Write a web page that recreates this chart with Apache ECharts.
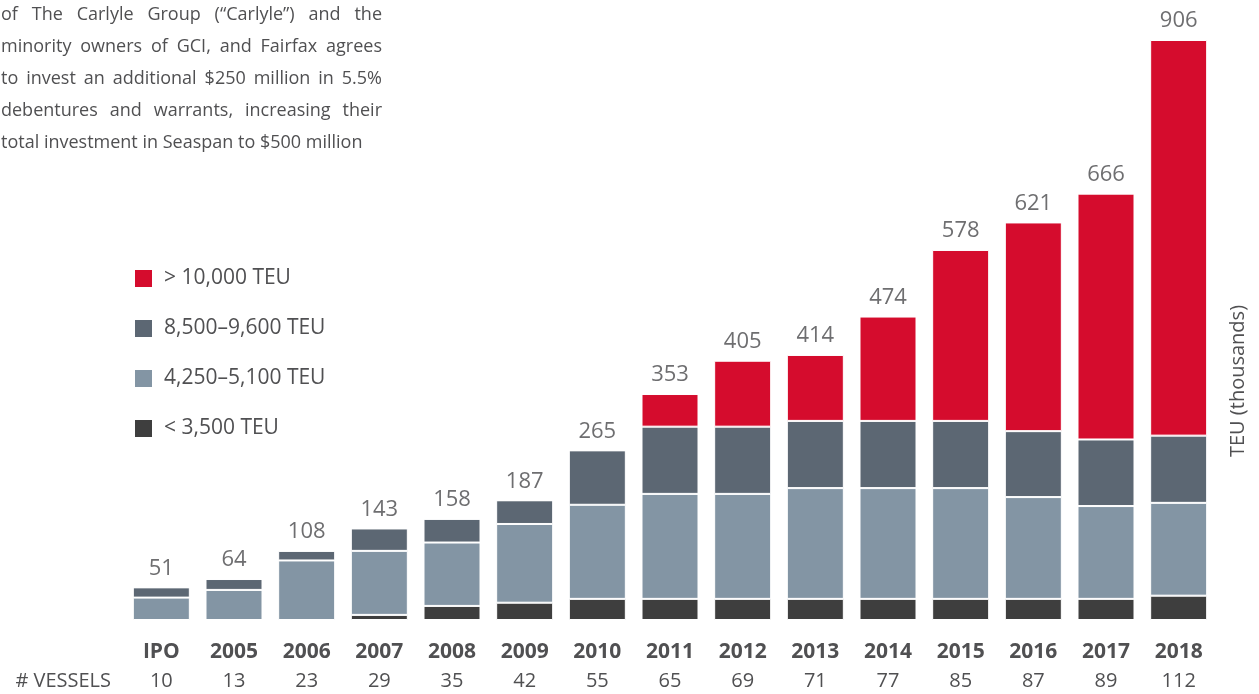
<!DOCTYPE html>
<html>
<head>
<meta charset="utf-8">
<script src="https://cdn.jsdelivr.net/npm/echarts@6/dist/echarts.min.js"></script>
<style>
    html, body { margin: 0; padding: 0; background: #fff; }
    #chart { width: 1259px; height: 694px; }
</style>
</head>
<body>
<div id="chart"></div>
<script>
const years = ['IPO', '2005', '2006', '2007', '2008', '2009', '2010', '2011', '2012', '2013', '2014', '2015', '2016', '2017', '2018']
const vessels = [10, 13, 23, 29, 35, 42, 55, 65, 69, 71, 77, 85, 87, 89, 112]
const totals = [51, 64, 108, 143, 158, 187, 265, 353, 405, 414, 474, 578, 621, 666, 906]

// TEU (thousands) by vessel size
const under3500 = [0, 0, 0, 8, 22, 27, 33, 33, 33, 33, 33, 33, 33, 33, 38]
const teu4250 = [35, 47, 93, 100, 99, 123, 147, 164, 164, 173, 173, 173, 159, 145, 145]
const teu8500 = [16, 17, 15, 35, 37, 37, 85, 105, 105, 105, 105, 105, 103, 104, 105]
const over10000 = [0, 0, 0, 0, 0, 0, 0, 51, 103, 103, 163, 267, 326, 384, 618]

const seriesNames = ['< 3,500 TEU', '4,250–5,100 TEU', '8,500–9,600 TEU', '> 10,000 TEU']
const colors = ['#3e3e3e', '#8395a4', '#5c6773', '#d50c2d']

const noteLines = [
    'of The Carlyle Group (“Carlyle”) and the',
    'minority owners of GCI, and Fairfax agrees',
    'to invest an additional $250 million in 5.5%',
    'debentures and warrants, increasing their',
    'total investment in Seaspan to $500 million'
]

const FONT = '"Open Sans", "Noto Sans", sans-serif'
const textColor = '#505052'

// justified paragraph, word by word
const noteFont = 18
const noteLeft = 1
const noteRight = 382
const ctx = document.createElement('canvas').getContext('2d')
ctx.font = `${noteFont}px ${FONT}`
const noteEls = []
noteLines.forEach((line, i) => {
    const y = 15 + i * 32
    const words = line.split(' ')
    const last = i === noteLines.length - 1
    const widths = words.map(w => ctx.measureText(w).width)
    const used = widths.reduce((a, b) => a + b, 0)
    const gap = last ? ctx.measureText(' ').width : (noteRight - noteLeft - used) / (words.length - 1)
    let x = noteLeft
    words.forEach((w, j) => {
        noteEls.push({
            type: 'text',
            left: x,
            top: y - 9,
            style: { text: w, fill: textColor, font: `${noteFont}px ${FONT}` }
        })
        x += widths[j] + gap
    })
})

const chart = echarts.init(document.getElementById('chart'))

const barSeries = [under3500, teu4250, teu8500, over10000].map((data, i) => ({
    name: seriesNames[i],
    type: 'bar',
    stack: 'teu',
    data,
    barWidth: 57,
    itemStyle: { color: colors[i], borderColor: '#fff', borderWidth: 1 },
    emphasis: { disabled: true }
}))

chart.setOption({
    animation: false,
    textStyle: { fontFamily: FONT },
    grid: { left: 125, right: 44, top: 40, bottom: 74 },
    legend: {
        data: ['> 10,000 TEU', '8,500–9,600 TEU', '4,250–5,100 TEU', '< 3,500 TEU'],
        orient: 'vertical',
        left: 133,
        top: 268,
        padding: 0,
        itemWidth: 19,
        itemHeight: 19,
        itemGap: 29,
        icon: 'rect',
        selectedMode: false,
        textStyle: { fontSize: 21, color: textColor, padding: [0, 0, 0, 6] }
    },
    xAxis: {
        type: 'category',
        data: years,
        axisLine: { show: false },
        axisTick: { show: false },
        axisLabel: {
            margin: 17,
            formatter: (v, i) => `{y|${v}}\n{n|${vessels[i]}}`,
            rich: {
                y: { fontSize: 21, fontWeight: 'bold', color: textColor, lineHeight: 30, fontFamily: FONT },
                n: { fontSize: 20, color: textColor, lineHeight: 28, fontFamily: FONT }
            }
        }
    },
    yAxis: {
        type: 'value',
        min: 0,
        max: Math.max(...totals),
        show: false,
        splitLine: { show: false }
    },
    series: [
        ...barSeries,
        {
            name: 'total',
            type: 'scatter',
            data: totals,
            symbolSize: 0,
            label: {
                show: true,
                position: 'top',
                distance: 8,
                fontSize: 22,
                color: '#4a4a4c'
            },
            emphasis: { disabled: true }
        }
    ],
    graphic: [
        ...noteEls,
        {
            type: 'text',
            x: 111,
            y: 681,
            style: { text: '# VESSELS', fill: textColor, font: `20px ${FONT}`, align: 'right', verticalAlign: 'middle' }
        },
        {
            type: 'text',
            x: 1238,
            y: 381,
            rotation: Math.PI / 2,
            style: { text: 'TEU (thousands)', fill: textColor, font: `20px ${FONT}`, align: 'center', verticalAlign: 'middle' }
        }
    ]
})
</script>
</body>
</html>
